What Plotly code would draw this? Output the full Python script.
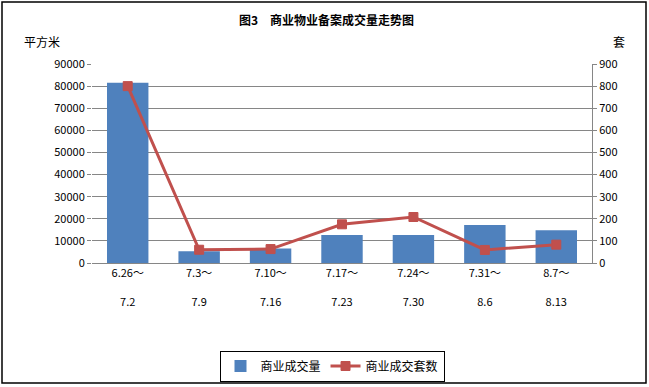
import plotly.graph_objects as go

categories = ["6.26～<br><br>7.2", "7.3～<br><br>7.9", "7.10～<br><br>7.16", "7.17～<br><br>7.23",
              "7.24～<br><br>7.30", "7.31～<br><br>8.6", "8.7～<br><br>8.13"]
area_values = [81500, 5300, 6600, 12700, 12700, 17200, 14800]
unit_values = [800, 60, 63, 175, 208, 59, 83]
left_ticks = [0, 10000, 20000, 30000, 40000, 50000, 60000, 70000, 80000, 90000]
right_ticks = [0, 100, 200, 300, 400, 500, 600, 700, 800, 900]

W, H = 649, 387
L, R, T, B = 92, 57, 64, 124
pw, ph = W - L - R, H - T - B

def px(x):
    return (x - L) / pw

def py(y):
    return (H - B - y) / ph

font = "Noto Sans CJK SC"

fig = go.Figure()
fig.add_trace(go.Bar(x=categories, y=area_values, name="商业成交量",
                     marker=dict(color="#4F81BD", line=dict(width=0)), width=0.58))
fig.add_trace(go.Scatter(x=categories, y=unit_values, name="商业成交套数", yaxis="y2",
                         mode="lines+markers",
                         line=dict(color="#C0504D", width=3),
                         marker=dict(symbol="square", size=9, color="#C0504D",
                                     line=dict(color="#C0504D", width=1))))

fig.update_layout(
    width=W, height=H,
    margin=dict(l=L, r=R, t=T, b=B, autoexpand=False),
    paper_bgcolor="white", plot_bgcolor="white",
    font=dict(family=font, size=11, color="black"),
    showlegend=True,
    legend=dict(orientation="h", x=px(332), xanchor="center", y=py(366), yanchor="middle",
                bordercolor="black", borderwidth=1, font=dict(size=12),
                itemwidth=30, tracegroupgap=0),
    bargap=0.42,
    xaxis=dict(showgrid=False, showline=True, linecolor="#868686", linewidth=1,
               ticks="", tickfont=dict(size=11), fixedrange=True),
    yaxis=dict(range=[0, 90000], tickvals=left_ticks, tickformat="d", showgrid=True,
               gridcolor="#868686", gridwidth=1, zeroline=False, showline=False,
               ticks="outside", ticklen=4, tickcolor="#868686", tickfont=dict(size=11)),
    yaxis2=dict(range=[0, 900], tickvals=right_ticks, tickformat="d", overlaying="y", side="right",
                showgrid=False, zeroline=False, showline=True, linecolor="#868686",
                ticks="outside", ticklen=4, tickcolor="#868686", tickfont=dict(size=11)),
    annotations=[
        dict(text="<b>图3　商业物业备案成交量走势图</b>", x=px(326), y=py(20), xref="paper", yref="paper",
             xanchor="center", yanchor="middle", showarrow=False, font=dict(size=12)),
        dict(text="平方米", x=px(22), y=py(42), xref="paper", yref="paper",
             xanchor="left", yanchor="middle", showarrow=False, font=dict(size=12)),
        dict(text="套", x=px(611), y=py(42), xref="paper", yref="paper",
             xanchor="left", yanchor="middle", showarrow=False, font=dict(size=12)),
    ],
    shapes=[dict(type="rect", xref="paper", yref="paper", x0=px(2), x1=px(646), y0=py(2), y1=py(383),
                 line=dict(color="black", width=1.5), fillcolor="rgba(0,0,0,0)", layer="below")],
)

fig.write_html("out.html", config={"displayModeBar": False},
               post_script="document.body.style.margin='0';document.body.style.overflow='hidden';")
